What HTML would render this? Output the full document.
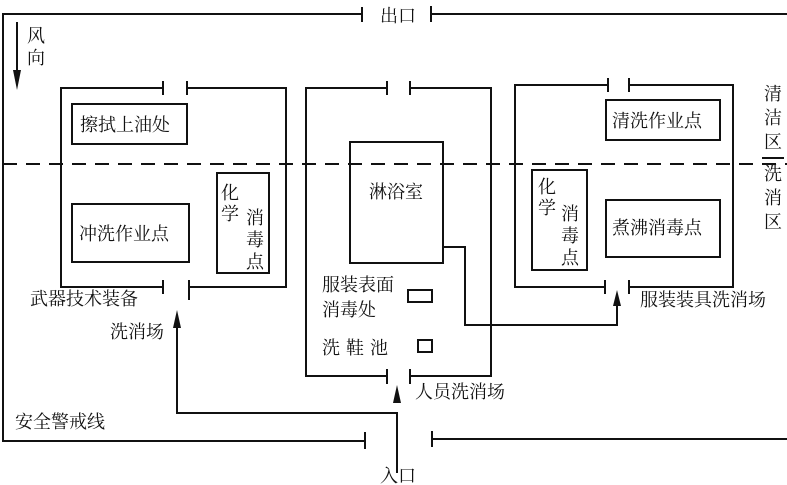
<!DOCTYPE html>
<html><head><meta charset="utf-8"><style>
html,body{margin:0;padding:0;background:#fff;}
svg{display:block;}
text{font-family:"Liberation Serif","Noto Serif CJK SC","Noto Sans CJK SC",serif;font-size:18px;fill:#111;}
</style></head><body>
<svg width="787" height="485" viewBox="0 0 787 485" xmlns="http://www.w3.org/2000/svg">
<g stroke="#111" stroke-width="2" fill="none">
<!-- outer -->
<polyline points="362,14 3,14 3,441 365,441"/>
<line x1="362" y1="7" x2="362" y2="22"/>
<line x1="365" y1="432" x2="365" y2="449"/>
<line x1="431" y1="14" x2="787" y2="14"/>
<line x1="431" y1="6" x2="431" y2="22"/>
<line x1="432" y1="439" x2="787" y2="439"/>
<line x1="432" y1="431" x2="432" y2="447"/>
<!-- dashed -->
<line x1="3" y1="164" x2="787" y2="164" stroke-dasharray="14,9"/>
<!-- left box -->
<polyline points="163,88 61,88 61,287 163,287"/>
<polyline points="187,88 286,88 286,287 189,287"/>
<line x1="163" y1="81" x2="163" y2="95"/><line x1="187" y1="81" x2="187" y2="95"/>
<line x1="163" y1="280" x2="163" y2="294"/><line x1="189" y1="280" x2="189" y2="300"/>
<!-- middle box -->
<polyline points="387,88 306,88 306,376 387,376"/>
<polyline points="410,88 491,88 491,376 410,376"/>
<line x1="387" y1="81" x2="387" y2="95"/><line x1="410" y1="81" x2="410" y2="95"/>
<line x1="387" y1="369" x2="387" y2="384"/><line x1="410" y1="369" x2="410" y2="384"/>
<!-- right box -->
<polyline points="608,85 515,85 515,287 605,287"/>
<polyline points="629,85 733,85 733,287 629,287"/>
<line x1="608" y1="78" x2="608" y2="92"/><line x1="629" y1="78" x2="629" y2="92"/>
<line x1="605" y1="280" x2="605" y2="294"/><line x1="629" y1="280" x2="629" y2="294"/>
<!-- inner boxes -->
<rect x="72" y="104" width="115" height="40"/>
<rect x="72" y="204" width="117" height="58"/>
<rect x="217" y="173" width="52" height="100"/>
<rect x="350" y="142" width="93" height="121"/>
<rect x="532" y="170" width="55" height="100"/>
<rect x="606" y="100" width="114" height="40"/>
<rect x="606" y="200" width="114" height="57"/>
<rect x="408" y="290" width="24" height="12"/>
<rect x="418" y="340" width="14" height="12"/>
<!-- connectors -->
<polyline points="397,473 397,413 177,413 177,322"/>
<polyline points="443,247 465,247 465,325 617,325 617,300"/>
<line x1="17" y1="22" x2="17" y2="80"/>
</g>
<g fill="#111">
<polygon points="17,90 13,70 21,70"/>
<polygon points="177,310 173,328 181,328"/>
<polygon points="397,385 393,403 401,403"/>
<polygon points="617,290 613,306 621,306"/>
</g>
<text x="27" y="42">风</text>
<text x="27" y="64">向</text>
<text x="380" y="22">出口</text>
<text x="80" y="131">擦拭上油处</text>
<text x="79" y="240">冲洗作业点</text>
<text x="221" y="199">化</text>
<text x="221" y="220">学</text>
<text x="246" y="224">消</text>
<text x="246" y="246">毒</text>
<text x="246" y="268">点</text>
<text x="369" y="198">淋浴室</text>
<text x="322" y="291">服装表面</text>
<text x="322" y="316">消毒处</text>
<text x="322" y="354" letter-spacing="6">洗鞋池</text>
<text x="415" y="398">人员洗消场</text>
<text x="30" y="305">武器技术装备</text>
<text x="110" y="338">洗消场</text>
<text x="15" y="428">安全警戒线</text>
<text x="380" y="482">入口</text>
<text x="538" y="193">化</text>
<text x="538" y="214">学</text>
<text x="561" y="220">消</text>
<text x="561" y="242">毒</text>
<text x="561" y="264">点</text>
<text x="612" y="127">清洗作业点</text>
<text x="612" y="234">煮沸消毒点</text>
<text x="640" y="306">服装装具洗消场</text>
<text x="764" y="100">清</text>
<text x="764" y="124">洁</text>
<text x="764" y="148">区</text>
<line x1="762" y1="158" x2="784" y2="158" stroke="#111" stroke-width="2"/>
<text x="764" y="180">洗</text>
<text x="764" y="204">消</text>
<text x="764" y="228">区</text>
</svg>
</body></html>
